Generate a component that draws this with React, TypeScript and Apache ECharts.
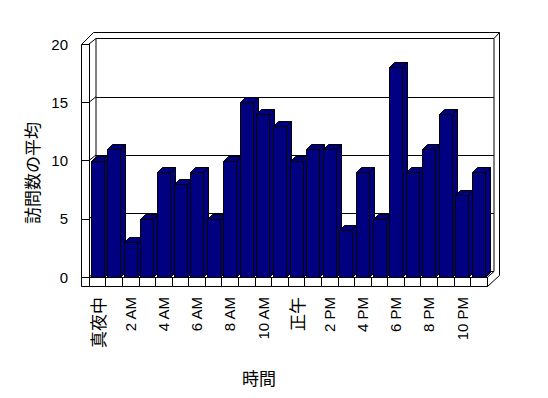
import React, { useEffect, useRef } from "react";
import * as echarts from "echarts";

const categories = [
  "真夜中", "1 AM", "2 AM", "3 AM", "4 AM", "5 AM", "6 AM", "7 AM", "8 AM", "9 AM", "10 AM", "11 AM",
  "正午", "1 PM", "2 PM", "3 PM", "4 PM", "5 PM", "6 PM", "7 PM", "8 PM", "9 PM", "10 PM", "11 PM",
];
const visits = [10, 11, 3, 5, 9, 8, 9, 5, 10, 15, 14, 13, 10, 11, 11, 4, 9, 5, 18, 9, 11, 14, 7, 9];
const yTicks = [0, 5, 10, 15, 20];
const yTitle = "訪問数の平均";
const xTitle = "時間";

const NAVY = "#000080";
const LATIN = "'Liberation Sans', Arial, sans-serif";
const CJK = "'Noto Sans CJK JP', sans-serif";

// front plane & back wall geometry
const FL = 89, FT = 44, FW = 398, FH = 233;
const WALL_DX = 7, WALL_DY = -5.5;
const BAR_DX = 5, BAR_DY = -5;

export default function App() {
  const ref = useRef<HTMLDivElement>(null);
  useEffect(() => {
    document.body.style.margin = "0";
    const chart = echarts.init(ref.current!, null, { renderer: "svg" });
    const lineStyle = { stroke: "#000", lineWidth: 1, fill: null };
    const L = (x1: number, y1: number, x2: number, y2: number) => ({
      type: "line", silent: true, shape: { x1, y1, x2, y2 }, style: lineStyle,
    });
    const FR = FL + FW; // 487
    const FB = FT + FH; // 277
    const OUT_L = 81.5, FLOOR_B = 286.5, TOP_OUT = 32.5, RIGHT_OUT = 499.5;
    chart.setOption({
      animation: false,
      backgroundColor: "#fff",
      textStyle: { color: "#000000" },
      grid: [
        { left: FL, top: FT, width: FW, height: FH },
        {
          left: FL + WALL_DX, top: FT + WALL_DY, width: FW, height: FH,
          show: true, borderColor: "#000", borderWidth: 1, backgroundColor: "transparent",
        },
      ],
      xAxis: [
        {
          type: "category", gridIndex: 0, data: categories, boundaryGap: true,
          axisLine: { show: true, lineStyle: { color: "#000", width: 1 } },
          axisTick: { show: true, interval: 0, length: 10, lineStyle: { color: "#000" } },
          splitLine: { show: false },
          axisLabel: {
            interval: 1, rotate: 90, margin: 20, color: "#000000", fontSize: 15, fontFamily: LATIN,
            formatter: (v: string) => (/[^\x00-\x7F]/.test(v) ? `{cjk|${v}}` : v),
            rich: { cjk: { fontSize: 17, fontFamily: CJK, color: "#000000" } },
          },
        },
        { type: "category", gridIndex: 1, data: categories, show: false },
      ],
      yAxis: [
        {
          type: "value", gridIndex: 0, min: 0, max: 20, interval: 5,
          axisLine: { show: true, lineStyle: { color: "#000" } },
          axisTick: { show: true, length: 7, lineStyle: { color: "#000" } },
          splitLine: { show: false },
          axisLabel: { margin: 21, color: "#000000", fontSize: 15, fontFamily: LATIN },
        },
        {
          type: "value", gridIndex: 1, min: 0, max: 20, interval: 5,
          axisLine: { show: false }, axisTick: { show: false }, axisLabel: { show: false },
          splitLine: { show: true, lineStyle: { color: "#000", width: 1 } },
        },
      ],
      series: [
        {
          type: "custom", xAxisIndex: 0, yAxisIndex: 0, z: 1, silent: true,
          data: yTicks.map((v) => [0, v]),
          renderItem: (params: any, api: any) => {
            const p = api.coord([0, api.value(1)]);
            const x0 = params.coordSys.x;
            return {
              type: "line",
              shape: { x1: x0, y1: p[1], x2: x0 + WALL_DX, y2: p[1] + WALL_DY },
              style: { stroke: "#000", lineWidth: 1 },
            };
          },
        },
        {
          type: "custom", name: yTitle, xAxisIndex: 0, yAxisIndex: 0, z: 3,
          data: visits.map((v, i) => [i, v]),
          renderItem: (params: any, api: any) => {
            const i = api.value(0), v = api.value(1);
            const top = api.coord([i, v]);
            const base = api.coord([i, 0]);
            const band = api.size([1, 0])[0];
            const w = band * 0.8;
            const x0 = Math.round(top[0] - w / 2) + 0.5;
            const x1 = x0 + Math.round(w);
            const ty = Math.round(top[1]) + 0.5, by = Math.round(base[1]) + 0.5;
            const st = { fill: NAVY, stroke: "#000", lineWidth: 1 };
            return {
              type: "group",
              children: [
                {
                  type: "polygon",
                  shape: { points: [[x1, ty], [x1 + BAR_DX, ty + BAR_DY], [x1 + BAR_DX, by + BAR_DY], [x1, by]] },
                  style: st,
                },
                {
                  type: "polygon",
                  shape: { points: [[x0, ty], [x1, ty], [x1 + BAR_DX, ty + BAR_DY], [x0 + BAR_DX, ty + BAR_DY]] },
                  style: st,
                },
                { type: "rect", shape: { x: x0, y: ty, width: x1 - x0, height: by - ty }, style: st },
              ],
            };
          },
        },
      ],
      graphic: [
        L(OUT_L, FT + 0.5, OUT_L, FLOOR_B),
        L(OUT_L, FT + 0.5, FL, FT + 0.5),
        L(OUT_L, FT + 0.5, OUT_L + 12, TOP_OUT),
        L(OUT_L + 12, TOP_OUT, RIGHT_OUT, TOP_OUT),
        L(FR + WALL_DX, FT + WALL_DY, RIGHT_OUT, TOP_OUT),
        L(RIGHT_OUT, TOP_OUT, RIGHT_OUT, FLOOR_B - 11),
        L(OUT_L, FLOOR_B, FR + 0.5, FLOOR_B),
        L(FR + 0.5, FB, FR + 0.5, FLOOR_B),
        L(FR + 0.5, FLOOR_B, RIGHT_OUT, FLOOR_B - 11),
        L(FR + 0.5, FB, FR + WALL_DX, FB + WALL_DY),
        {
          type: "text", silent: true, x: 31, y: 173, rotation: Math.PI / 2,
          style: { text: yTitle, fontSize: 17, fontFamily: CJK, fill: "#000", textAlign: "center", textVerticalAlign: "middle" },
        },
        {
          type: "text", silent: true, x: 259, y: 377,
          style: { text: xTitle, fontSize: 17, fontFamily: CJK, fill: "#000", textAlign: "center", textVerticalAlign: "middle" },
        },
      ],
    });
    return () => chart.dispose();
  }, []);
  return <div ref={ref} style={{ width: 548, height: 398, background: "#fff" }} />;
}
